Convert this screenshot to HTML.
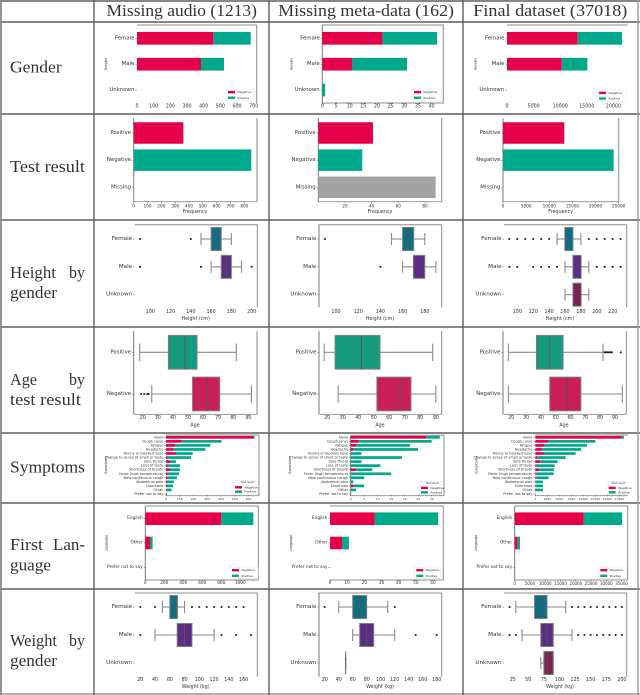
<!DOCTYPE html>
<html lang="en">
<head>
<meta charset="utf-8">
<title>Dataset summary table</title>
<style>
html,body{margin:0;padding:0;background:#fff;}
body{width:640px;height:695px;overflow:hidden;}
svg{display:block;}
#charts{filter:blur(.35px);}
.h{font-family:"Liberation Serif",serif;fill:#333;font-size:17px;}
.t{font-family:"DejaVu Sans",sans-serif;fill:#333;}
</style>
</head>
<body>
<svg id="figure" width="640" height="695" viewBox="0 0 640 695" xmlns="http://www.w3.org/2000/svg">
<rect width="640" height="695" fill="#fff"/>
<g stroke="#5f5f5f" stroke-width="1.4">
<line x1="0" y1="1" x2="640" y2="1"/>
<line x1="0" y1="22" x2="640" y2="22"/>
<line x1="0" y1="114" x2="640" y2="114"/>
<line x1="0" y1="220" x2="640" y2="220"/>
<line x1="0" y1="327" x2="640" y2="327"/>
<line x1="0" y1="433" x2="640" y2="433"/>
<line x1="0" y1="503" x2="640" y2="503"/>
<line x1="0" y1="589" x2="640" y2="589"/>
<line x1="0" y1="694" x2="640" y2="694" stroke="#999"/>
<line x1="1" y1="0" x2="1" y2="695" stroke="#888" stroke-width="1.8"/>
<line x1="94" y1="0" x2="94" y2="695"/>
<line x1="269" y1="0" x2="269" y2="695"/>
<line x1="463" y1="0" x2="463" y2="695"/>
<line x1="638" y1="0" x2="638" y2="695" stroke="#999"/>
</g>
<g>
<text class="h" x="106.5" y="16" textLength="150.5" lengthAdjust="spacingAndGlyphs">Missing audio (1213)</text>
<text class="h" x="278.3" y="16" textLength="175.7" lengthAdjust="spacingAndGlyphs">Missing meta-data (162)</text>
<text class="h" x="473.3" y="16" textLength="154" lengthAdjust="spacingAndGlyphs">Final dataset (37018)</text>
</g>
<g>
<text class="h" x="10" y="72.7" textLength="51.7" lengthAdjust="spacingAndGlyphs">Gender</text>
<text class="h" x="10" y="172" textLength="75" lengthAdjust="spacingAndGlyphs">Test result</text>
<text class="h" x="10" y="278" textLength="46" lengthAdjust="spacingAndGlyphs">Height</text>
<text class="h" x="69" y="278" textLength="16" lengthAdjust="spacingAndGlyphs">by</text>
<text class="h" x="10" y="298" textLength="47" lengthAdjust="spacingAndGlyphs">gender</text>
<text class="h" x="10" y="385" textLength="27" lengthAdjust="spacingAndGlyphs">Age</text>
<text class="h" x="69" y="385" textLength="16" lengthAdjust="spacingAndGlyphs">by</text>
<text class="h" x="10" y="405" textLength="71" lengthAdjust="spacingAndGlyphs">test result</text>
<text class="h" x="10" y="472.7" textLength="75" lengthAdjust="spacingAndGlyphs">Symptoms</text>
<text class="h" x="10" y="550" textLength="33" lengthAdjust="spacingAndGlyphs">First</text>
<text class="h" x="53" y="550" textLength="32" lengthAdjust="spacingAndGlyphs">Lan-</text>
<text class="h" x="10" y="570.7" textLength="41" lengthAdjust="spacingAndGlyphs">guage</text>
<text class="h" x="10" y="646" textLength="47" lengthAdjust="spacingAndGlyphs">Weight</text>
<text class="h" x="69" y="646" textLength="16" lengthAdjust="spacingAndGlyphs">by</text>
<text class="h" x="10" y="666" textLength="47" lengthAdjust="spacingAndGlyphs">gender</text>
</g>
<g id="charts"></g>
</svg>
<script>
// ---------- categories ----------
const genderCats = ['Female', 'Male', 'Unknown'];
const testCats = ['Positive', 'Negative', 'Missing'];
const ageCats = ['Positive', 'Negative'];
const languageCats = ['English', 'Other', 'Prefer not to say'];
const symptomCats = ['None', 'Cough (any)', 'Fatigue', 'Headache', 'Runny or blocked nose', 'Change to sense of smell or taste', 'Sore throat', 'Loss of taste', 'Shortness of breath', 'Fever (high temperature)', 'New continuous cough', 'Abdominal pain', 'Diarrhoea', 'Other', 'Prefer not to say'];

// ---------- gender ----------
const genderAudioNeg = [458, 384, 0];
const genderAudioPos = [224, 138, 0];
const genderAudioTicks = [0, 100, 200, 300, 400, 500, 600, 700];
const genderMetaNeg = [22, 11, 0];
const genderMetaPos = [20, 20, 1];
const genderMetaTicks = [0, 5, 10, 15, 20, 25, 30, 35, 40];
const genderFinalNeg = [13292, 10282, 0];
const genderFinalPos = [8338, 4828, 0];
const genderFinalTicks = [0, 5000, 10000, 15000, 20000];

// ---------- test result ----------
const testAudioValues = [359, 850, 2];
const testAudioTicks = [0, 100, 200, 300, 400, 500, 600, 700, 800];
const testMetaValues = [41, 33, 88];
const testMetaTicks = [20, 40, 60, 80];
const testFinalValues = [13256, 23919, 0];
const testFinalTicks = [0, 5000, 10000, 15000, 20000, 25000];

// ---------- height boxplots ----------
const heightAudioWhiskerLow = [150, 160, null];
const heightAudioQ1 = [160, 170, null];
const heightAudioMedian = [165, 175, null];
const heightAudioQ3 = [170, 180, null];
const heightAudioWhiskerHigh = [180, 190, null];
const heightAudioFliers = [[90, 140], [90, 150, 200], []];
const heightAudioTicks = [100, 120, 140, 160, 180, 200];

const heightMetaWhiskerLow = [150, 160, null];
const heightMetaQ1 = [160, 170, null];
const heightMetaMedian = [165, 170, null];
const heightMetaQ3 = [170, 180, null];
const heightMetaWhiskerHigh = [180, 190, null];
const heightMetaFliers = [[90], [140], []];
const heightMetaTicks = [100, 120, 140, 160, 180];

const heightFinalWhiskerLow = [150, 160, 160];
const heightFinalQ1 = [160, 170, 170];
const heightFinalMedian = [160, 180, 180];
const heightFinalQ3 = [170, 180, 180];
const heightFinalWhiskerHigh = [180, 190, 190];
const heightFinalFliers = [[90, 100, 110, 120, 130, 140, 190, 200, 210, 220, 230], [90, 100, 120, 130, 140, 150, 200, 210, 220, 230], []];
const heightFinalTicks = [100, 120, 140, 160, 180, 200, 220];

// ---------- age boxplots ----------
const ageAudioWhiskerLow = [18, 26];
const ageAudioQ1 = [37, 53];
const ageAudioMedian = [48, 63];
const ageAudioQ3 = [56, 71];
const ageAudioWhiskerHigh = [82, 92];
const ageAudioFliers = [[], [19, 21, 23, 24]];
const ageAudioTicks = [20, 30, 40, 50, 60, 70, 80, 90];

const ageMetaWhiskerLow = [18, 27];
const ageMetaQ1 = [25, 52];
const ageMetaMedian = [42, 67];
const ageMetaQ3 = [54, 74];
const ageMetaWhiskerHigh = [88, 90];
const ageMetaFliers = [[], []];
const ageMetaTicks = [20, 30, 40, 50, 60, 70, 80, 90];

const ageFinalWhiskerLow = [18, 18];
const ageFinalQ1 = [37, 46];
const ageFinalMedian = [46, 58];
const ageFinalQ3 = [55, 67];
const ageFinalWhiskerHigh = [82, 95];
const ageFinalFliers = [[83, 84, 85, 86, 87, 88, 94], []];
const ageFinalTicks = [20, 30, 40, 50, 60, 70, 80, 90];

// ---------- symptoms ----------
const symptomAudioNeg = [636, 114, 66, 51, 73, 12, 29, 12, 29, 12, 12, 7, 7, 5, 0];
const symptomAudioPos = [9, 289, 257, 235, 121, 170, 44, 90, 72, 83, 68, 49, 44, 36, 7];
const symptomAudioTicks = [0, 100, 200, 300, 400, 500, 600];
const symptomMetaNeg = [28, 3, 2, 1, 0, 0, 0, 0, 2, 0, 0, 0, 1, 0, 0];
const symptomMetaPos = [5, 27, 20, 24, 4, 19, 4, 11, 6, 15, 5, 1, 4, 2, 0];
const symptomMetaTicks = [0, 5, 10, 15, 20, 25, 30];
const symptomFinalNeg = [17986, 2640, 1875, 1389, 1806, 347, 1042, 208, 764, 208, 208, 139, 139, 139, 0];
const symptomFinalPos = [486, 9860, 8889, 8125, 6597, 5972, 3611, 3820, 3125, 3611, 2570, 1458, 1458, 1458, 100];
const symptomFinalTicks = [0, 2500, 5000, 7500, 10000, 12500, 15000, 17500];

// ---------- first language ----------
const languageAudioNeg = [800, 49, 0];
const languageAudioPos = [337, 28, 0];
const languageAudioTicks = [0, 200, 400, 600, 800, 1000];
const languageMetaNeg = [26, 7, 0];
const languageMetaPos = [37, 4, 0];
const languageMetaTicks = [0, 10, 20, 30, 40, 50, 60];
const languageFinalNeg = [22620, 983, 0];
const languageFinalPos = [12540, 764, 0];
const languageFinalTicks = [0, 5000, 10000, 15000, 20000, 25000, 30000, 35000];

// ---------- weight boxplots ----------
const weightAudioWhiskerLow = [50, 40, null];
const weightAudioQ1 = [60, 70, null];
const weightAudioMedian = [70, 80, null];
const weightAudioQ3 = [70, 90, null];
const weightAudioWhiskerHigh = [80, 120, null];
const weightAudioFliers = [[20, 40, 90, 100, 110, 120, 130, 140, 150, 160], [20, 130, 150, 170], []];
const weightAudioTicks = [20, 40, 60, 80, 100, 120, 140, 160];

const weightMetaWhiskerLow = [40, 60, 50];
const weightMetaQ1 = [60, 70, 50];
const weightMetaMedian = [70, 80, 50];
const weightMetaQ3 = [80, 90, 50];
const weightMetaWhiskerHigh = [110, 120, 50];
const weightMetaFliers = [[20, 120], [150, 180], []];
const weightMetaTicks = [20, 40, 60, 80, 100, 120, 140, 160, 180];

const weightFinalWhiskerLow = [30, 40, 70];
const weightFinalQ1 = [60, 70, 75];
const weightFinalMedian = [70, 80, 80];
const weightFinalQ3 = [80, 90, 90];
const weightFinalWhiskerHigh = [110, 120, 75];
const weightFinalFliers = [[20, 120, 130, 140, 150, 160, 170, 180, 190, 200], [20, 30, 130, 140, 150, 160, 170, 180, 190, 200], []];
const weightFinalTicks = [25, 50, 75, 100, 125, 150, 175, 200];

// ---------- drawing helpers ----------
const NEG = '#e60049';
const POS = '#00a98a';
const MISSING = '#a3a3a3';
const GENDER_BOX = ['#0f6e84', '#5b2e83', '#7b2350'];
const AGE_BOX = ['#16997e', '#c81f55'];
const NS = 'http://www.w3.org/2000/svg';
const chartRoot = document.getElementById('charts');

function make(tag, parent, attrs) {
  const node = document.createElementNS(NS, tag);
  for (const k in attrs) node.setAttribute(k, attrs[k]);
  parent.appendChild(node);
  return node;
}
function text(parent, str, x, y, size, anchor, label) {
  const t = make('text', parent, { class: 't', x: x, y: y, 'font-size': size, 'text-anchor': anchor, 'dominant-baseline': 'central' });
  t.textContent = str;
  
  
  return t;
}
function seg(parent, x1, y1, x2, y2, color, w, label) {
  const l = make('line', parent, { x1: x1, y1: y1, x2: x2, y2: y2, stroke: color, 'stroke-width': w });
  
  
  return l;
}
function bar(parent, x, y, w, h, color, label) {
  const r = make('rect', parent, { x: x, y: y, width: Math.max(0, w), height: h, fill: color });
  
  
  return r;
}
function panelGroup(label) {
  const g = make('g', chartRoot, {});
  
  
  return g;
}
function scaleX(c) {
  return function (v) { return c.zero + (v - c.v0) * c.k; };
}
function rowY(c) {
  return function (i) { return c.y0 + i * c.step; };
}
function drawAxes(g, c, cats, ticks) {
  const x = scaleX(c), y = rowY(c);
  const col = '#8c8c8c';
  if (c.sides.indexOf('t') >= 0) seg(g, c.left, c.top, c.right, c.top, col, 1, 'spine-top');
  if (c.sides.indexOf('r') >= 0) seg(g, c.right, c.top, c.right, c.bottom, col, 1, 'spine-right');
  if (c.sides.indexOf('l') >= 0) seg(g, c.left, c.top, c.left, c.bottom, '#777', 1, 'spine-left');
  if (c.sides.indexOf('b') >= 0) seg(g, c.left, c.bottom, c.right, c.bottom, col, 0.9, 'spine-bottom');
  ticks.forEach(function (v) {
    seg(g, x(v), c.tickY - 4, x(v), c.tickY - 2.6, '#555', 0.5, 'x-tick-mark');
    text(g, String(v), x(v), c.tickY, c.tickFs, 'middle', 'x-tick-label');
  });
  cats.forEach(function (name, i) {
    seg(g, c.left - 1.6, y(i), c.left, y(i), '#555', 0.5, 'y-tick-mark');
    text(g, name, c.left - 2.6, y(i), c.catFs, 'end', 'y-tick-label');
  });
  if (c.xlabel) text(g, c.xlabel, c.xlabelX, c.xlabelY, 4.8, 'middle', 'x-axis-title');
  if (c.ylabel) {
    const t = text(g, c.ylabel, c.ylabelX, c.ylabelY, 3.4, 'middle', 'y-axis-title');
    t.setAttribute('transform', 'rotate(-90 ' + c.ylabelX + ' ' + c.ylabelY + ')');
  }
}
function drawLegend(g, lx, ly, lw, lh, title) {
  const box = make('rect', g, { x: lx, y: ly, width: lw, height: lh, fill: '#fff', stroke: '#e2e2e2', 'stroke-width': 0.5 });
  
  
  let cy = ly + (title ? 2 : 3.2);
  if (title) {
    text(g, title, lx + lw / 2 + 2, cy, 2.6, 'middle', 'legend-title');
    cy += 4.6;
  }
  const gap = title ? 4.4 : 5.6;
  bar(g, lx + 2, cy - 1.2, 7, 2.4, NEG, 'legend-swatch-negative');
  text(g, 'Negative', lx + 11.5, cy, 3, 'start', 'legend-entry-negative');
  cy += gap;
  bar(g, lx + 2, cy - 1.2, 7, 2.4, POS, 'legend-swatch-positive');
  text(g, 'Positive', lx + 11.5, cy, 3, 'start', 'legend-entry-positive');
}
function drawStacked(label, c, cats, neg, pos, ticks, legend) {
  const g = panelGroup(label);
  const x = scaleX(c), y = rowY(c);
  drawAxes(g, c, cats, ticks);
  cats.forEach(function (name, i) {
    const top = y(i) - c.barH / 2;
    bar(g, x(0), top, x(neg[i]) - x(0), c.barH, NEG, 'bar-negative');
    bar(g, x(neg[i]), top, x(neg[i] + pos[i]) - x(neg[i]), c.barH, POS, 'bar-positive');
  });
  drawLegend(g, legend.x, legend.y, legend.w, legend.h, legend.title);
}
function drawSingle(label, c, cats, values, ticks) {
  const g = panelGroup(label);
  const x = scaleX(c), y = rowY(c);
  const colors = [NEG, POS, MISSING];
  drawAxes(g, c, cats, ticks);
  cats.forEach(function (name, i) {
    bar(g, c.left, y(i) - c.barH / 2, x(values[i]) - c.left, c.barH, colors[i], 'bar-' + name.toLowerCase());
  });
}
function drawBoxes(label, c, cats, low, q1, med, q3, high, fliers, ticks, colors) {
  const g = panelGroup(label);
  const x = scaleX(c), y = rowY(c);
  const edge = '#555';
  const whisk = '#8a8a8a';
  drawAxes(g, c, cats, ticks);
  cats.forEach(function (name, i) {
    const cy = y(i);
    const half = c.barH / 2;
    const cap = half * 0.52;
    fliers[i].forEach(function (v) {
      const d = make('circle', g, { cx: x(v), cy: cy, r: 1.05, fill: '#222' });
      
      
    });
    if (low[i] === null) return;
    seg(g, x(low[i]), cy, x(q1[i]), cy, whisk, 1.1, 'whisker-low');
    seg(g, x(q3[i]), cy, x(high[i]), cy, whisk, 1.1, 'whisker-high');
    seg(g, x(low[i]), cy - cap, x(low[i]), cy + cap, whisk, 1.1, 'whisker-cap-low');
    seg(g, x(high[i]), cy - cap, x(high[i]), cy + cap, whisk, 1.1, 'whisker-cap-high');
    const r = make('rect', g, { x: x(q1[i]), y: cy - half, width: x(q3[i]) - x(q1[i]), height: c.barH, fill: colors[i], stroke: q1[i] === q3[i] ? whisk : '#808080', 'stroke-width': 1 });
    
    
    seg(g, x(med[i]), cy - half, x(med[i]), cy + half, edge, 0.9, 'median-line');
  });
}

// ---------- gender row ----------
drawStacked('chart-gender-missing-audio', { left: 137, top: 25, right: 256.7, bottom: 103, sides: 'tr', zero: 137, v0: 0, k: 116.7 / 700, y0: 38.3, step: 25.9, barH: 12.7, tickY: 107, tickFs: 4.8, catFs: 5.4, ylabel: 'Gender', ylabelX: 106, ylabelY: 64 }, genderCats, genderAudioNeg, genderAudioPos, genderAudioTicks, { x: 226, y: 89, w: 29, h: 12 });
drawStacked('chart-gender-missing-meta', { left: 322.3, top: 25, right: 443.3, bottom: 103, sides: 'trlb', zero: 322.3, v0: 0, k: 13.67 / 5, y0: 38.3, step: 25.9, barH: 12.7, tickY: 107, tickFs: 4.8, catFs: 5.4, ylabel: 'Gender', ylabelX: 291.7, ylabelY: 64 }, genderCats, genderMetaNeg, genderMetaPos, genderMetaTicks, { x: 412, y: 89, w: 29, h: 12 });
drawStacked('chart-gender-final', { left: 507, top: 25, right: 627.7, bottom: 103, sides: 't', zero: 507, v0: 0, k: 26.6 / 5000, y0: 38.3, step: 25.9, barH: 12.7, tickY: 107, tickFs: 4.8, catFs: 5.4, ylabel: 'Gender', ylabelX: 475.7, ylabelY: 64 }, genderCats, genderFinalNeg, genderFinalPos, genderFinalTicks, { x: 597, y: 89.7, w: 29, h: 11.5 });

// ---------- test result row ----------
drawSingle('chart-test-missing-audio', { left: 133.7, top: 118, right: 257, bottom: 201.7, sides: 'lrb', zero: 133.7, v0: 0, k: 13.83 / 100, y0: 133, step: 27.15, barH: 21.5, tickY: 206, tickFs: 4.2, catFs: 5.4, xlabel: 'Frequency', xlabelX: 195, xlabelY: 212.7 }, testCats, testAudioValues, testAudioTicks);
drawSingle('chart-test-missing-meta', { left: 318.3, top: 118, right: 441.7, bottom: 201.7, sides: 'lrb', zero: 318.3, v0: 0, k: 26.67 / 20, y0: 133, step: 27.15, barH: 21.5, tickY: 206, tickFs: 4.2, catFs: 5.4, xlabel: 'Frequency', xlabelX: 380, xlabelY: 212.7 }, testCats, testMetaValues, testMetaTicks);
drawSingle('chart-test-final', { left: 503, top: 118, right: 618.7, bottom: 201.7, sides: 'lrb', zero: 503, v0: 0, k: 23.13 / 5000, y0: 133, step: 27.15, barH: 21.5, tickY: 206, tickFs: 4.2, catFs: 5.4, xlabel: 'Frequency', xlabelX: 560.7, xlabelY: 212.7 }, testCats, testFinalValues, testFinalTicks);

// ---------- height row ----------
drawBoxes('chart-height-missing-audio', { left: 134.7, top: 224.7, right: 257.3, bottom: 307.3, sides: 'tr', zero: 150.3, v0: 100, k: 20.27 / 20, y0: 239, step: 27.85, barH: 23, tickY: 312.7, tickFs: 4.8, catFs: 5.6, xlabel: 'Height (cm)', xlabelX: 195.7, xlabelY: 319.3 }, genderCats, heightAudioWhiskerLow, heightAudioQ1, heightAudioMedian, heightAudioQ3, heightAudioWhiskerHigh, heightAudioFliers, heightAudioTicks, GENDER_BOX);
drawBoxes('chart-height-missing-meta', { left: 319, top: 224.7, right: 441.7, bottom: 307.3, sides: 'trl', zero: 336, v0: 100, k: 22.2 / 20, y0: 239, step: 27.85, barH: 23, tickY: 312.7, tickFs: 4.8, catFs: 5.6, xlabel: 'Height (cm)', xlabelX: 380, xlabelY: 319.3 }, genderCats, heightMetaWhiskerLow, heightMetaQ1, heightMetaMedian, heightMetaQ3, heightMetaWhiskerHigh, heightMetaFliers, heightMetaTicks, GENDER_BOX);
drawBoxes('chart-height-final', { left: 504, top: 224.7, right: 626.7, bottom: 307.3, sides: 'tr', zero: 517.3, v0: 100, k: 15.9 / 20, y0: 239, step: 27.85, barH: 23, tickY: 312.7, tickFs: 4.8, catFs: 5.6, xlabel: 'Height (cm)', xlabelX: 560, xlabelY: 319.3 }, genderCats, heightFinalWhiskerLow, heightFinalQ1, heightFinalMedian, heightFinalQ3, heightFinalWhiskerHigh, heightFinalFliers, heightFinalTicks, GENDER_BOX);

// ---------- age row ----------
drawBoxes('chart-age-missing-audio', { left: 133.7, top: 331, right: 257, bottom: 414.3, sides: 'lrb', zero: 142.7, v0: 20, k: 15.1 / 10, y0: 352.3, step: 41.7, barH: 33.7, tickY: 418.7, tickFs: 4.8, catFs: 5.4, xlabel: 'Age', xlabelX: 195, xlabelY: 426 }, ageCats, ageAudioWhiskerLow, ageAudioQ1, ageAudioMedian, ageAudioQ3, ageAudioWhiskerHigh, ageAudioFliers, ageAudioTicks, AGE_BOX);
drawBoxes('chart-age-missing-meta', { left: 319, top: 331, right: 441.7, bottom: 414.3, sides: 'lrb', zero: 327.3, v0: 20, k: 15.5 / 10, y0: 352.3, step: 41.7, barH: 33.7, tickY: 418.7, tickFs: 4.8, catFs: 5.4, xlabel: 'Age', xlabelX: 380, xlabelY: 426 }, ageCats, ageMetaWhiskerLow, ageMetaQ1, ageMetaMedian, ageMetaQ3, ageMetaWhiskerHigh, ageMetaFliers, ageMetaTicks, AGE_BOX);
drawBoxes('chart-age-final', { left: 503, top: 331, right: 626.3, bottom: 414.3, sides: 'lrb', zero: 511.3, v0: 20, k: 14.8 / 10, y0: 352.3, step: 41.7, barH: 33.7, tickY: 418.7, tickFs: 4.8, catFs: 5.4, xlabel: 'Age', xlabelX: 564, xlabelY: 426 }, ageCats, ageFinalWhiskerLow, ageFinalQ1, ageFinalMedian, ageFinalQ3, ageFinalWhiskerHigh, ageFinalFliers, ageFinalTicks, AGE_BOX);

// ---------- symptoms row ----------
drawStacked('chart-symptoms-missing-audio', { left: 166, top: 435, right: 259, bottom: 495.7, sides: 'trb', zero: 166, v0: 0, k: 13.75 / 100, y0: 437.3, step: 4.05, barH: 2.7, tickY: 499, tickFs: 3, catFs: 3.5, ylabel: 'Symptoms', ylabelX: 106, ylabelY: 465 }, symptomCats, symptomAudioNeg, symptomAudioPos, symptomAudioTicks, { x: 233, y: 480.7, w: 25, h: 13.3, title: 'Test result' });
drawStacked('chart-symptoms-missing-meta', { left: 350.7, top: 435.3, right: 444, bottom: 495.7, sides: 'trbl', zero: 350.7, v0: 0, k: 13.5 / 5, y0: 437.3, step: 4.05, barH: 2.7, tickY: 499, tickFs: 3, catFs: 3.5, ylabel: 'Symptoms', ylabelX: 290, ylabelY: 465 }, symptomCats, symptomMetaNeg, symptomMetaPos, symptomMetaTicks, { x: 419, y: 481.3, w: 22.7, h: 13, title: 'Test result' });
drawStacked('chart-symptoms-final', { left: 535, top: 435, right: 628, bottom: 495.7, sides: 'tb', zero: 535.3, v0: 0, k: 12 / 2500, y0: 437.3, step: 4.05, barH: 2.7, tickY: 499, tickFs: 3, catFs: 3.5, ylabel: 'Symptoms', ylabelX: 476.7, ylabelY: 465 }, symptomCats, symptomFinalNeg, symptomFinalPos, symptomFinalTicks, { x: 606.7, y: 481.3, w: 19.3, h: 13, title: 'Test result' });

// ---------- first language row ----------
drawStacked('chart-language-missing-audio', { left: 145.3, top: 506, right: 258.3, bottom: 580, sides: 'ltrb', zero: 145.3, v0: 0, k: 19 / 200, y0: 518.7, step: 24.3, barH: 12.6, tickY: 583.7, tickFs: 4.3, catFs: 4.3, ylabel: 'Language', ylabelX: 106.5, ylabelY: 543 }, languageCats, languageAudioNeg, languageAudioPos, languageAudioTicks, { x: 230, y: 567, w: 28, h: 11.5 });
drawStacked('chart-language-missing-meta', { left: 330, top: 506, right: 443.3, bottom: 580, sides: 'trb', zero: 330, v0: 0, k: 17.17 / 10, y0: 518.7, step: 24.3, barH: 12.6, tickY: 583.7, tickFs: 4.3, catFs: 4.3, ylabel: 'Language', ylabelX: 291, ylabelY: 543 }, languageCats, languageMetaNeg, languageMetaPos, languageMetaTicks, { x: 414.3, y: 567, w: 26, h: 11.5 });
drawStacked('chart-language-final', { left: 514.7, top: 506, right: 627.7, bottom: 580, sides: 'ltrb', zero: 514.7, v0: 0, k: 15.27 / 5000, y0: 518.7, step: 24.3, barH: 12.6, tickY: 583.7, tickFs: 4, catFs: 4.3, ylabel: 'Language', ylabelX: 476, ylabelY: 543 }, languageCats, languageFinalNeg, languageFinalPos, languageFinalTicks, { x: 598.3, y: 567, w: 27.7, h: 11.5 });

// ---------- weight row ----------
drawBoxes('chart-weight-missing-audio', { left: 134.7, top: 593, right: 257.3, bottom: 676.7, sides: 'tr', zero: 140.3, v0: 20, k: 14.76 / 20, y0: 607, step: 28, barH: 23, tickY: 680.7, tickFs: 4.8, catFs: 5.6, xlabel: 'Weight (kg)', xlabelX: 195.7, xlabelY: 687.3 }, genderCats, weightAudioWhiskerLow, weightAudioQ1, weightAudioMedian, weightAudioQ3, weightAudioWhiskerHigh, weightAudioFliers, weightAudioTicks, GENDER_BOX);
drawBoxes('chart-weight-missing-meta', { left: 319, top: 593, right: 441.7, bottom: 676.7, sides: 'trl', zero: 324.7, v0: 20, k: 14 / 20, y0: 607, step: 28, barH: 23, tickY: 680.7, tickFs: 4.8, catFs: 5.6, xlabel: 'Weight (kg)', xlabelX: 380, xlabelY: 687.3 }, genderCats, weightMetaWhiskerLow, weightMetaQ1, weightMetaMedian, weightMetaQ3, weightMetaWhiskerHigh, weightMetaFliers, weightMetaTicks, GENDER_BOX);
drawBoxes('chart-weight-final', { left: 504, top: 593, right: 626.7, bottom: 676.7, sides: 'tr', zero: 512.7, v0: 25, k: 15.6 / 25, y0: 607, step: 28, barH: 23, tickY: 680.7, tickFs: 4.8, catFs: 5.6, xlabel: 'Weight (kg)', xlabelX: 560, xlabelY: 687.3 }, genderCats, weightFinalWhiskerLow, weightFinalQ1, weightFinalMedian, weightFinalQ3, weightFinalWhiskerHigh, weightFinalFliers, weightFinalTicks, GENDER_BOX);
</script>
</body>
</html>
